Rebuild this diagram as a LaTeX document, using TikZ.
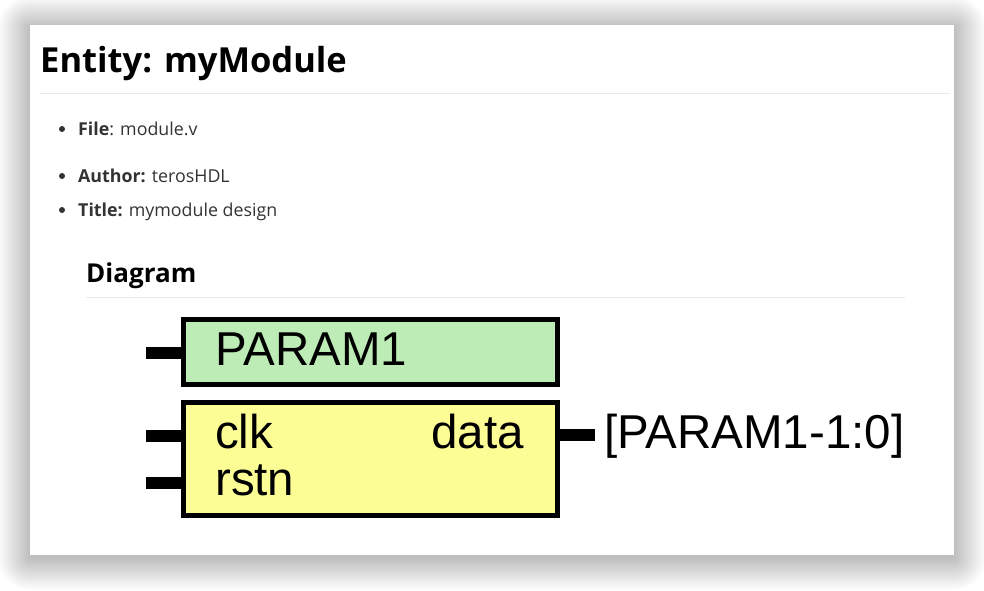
\documentclass[tikz,border=0pt]{standalone}
\usepackage{fontspec}
\setmainfont{Open Sans}
\newfontfamily\arialf{Liberation Sans}
\definecolor{txt}{HTML}{333333}
\definecolor{rulec}{HTML}{E8E8E8}
\definecolor{pgreen}{HTML}{BDECB6}
\definecolor{pyellow}{HTML}{FDFD96}
\begin{document}
\begin{tikzpicture}[x=1pt,y=-1pt,
  title/.style={anchor=base west,inner sep=0pt,font=\fontsize{34.5}{40}\selectfont\bfseries,text=black},
  htwo/.style={anchor=base west,inner sep=0pt,font=\fontsize{26}{30}\selectfont\bfseries,text=black},
  body/.style={anchor=base west,inner sep=0pt,font=\fontsize{17.8}{20}\selectfont,text=txt},
  dot/.style={circle,fill=txt,inner sep=0pt,minimum size=6pt},
  rulel/.style={draw=rulec,line width=1pt},
  gbox/.style={draw=black,line width=5pt,fill=pgreen,anchor=north west,inner sep=0pt,outer sep=0pt},
  ybox/.style={draw=black,line width=5pt,fill=pyellow,anchor=north west,inner sep=0pt,outer sep=0pt},
  stub/.style={draw=black,line width=12pt},
  diag/.style={inner sep=0pt,font=\arialf\fontsize{47.5}{52}\selectfont,text=black}]
\useasboundingbox (0,0) rectangle (984,590);
\fill[white] (0,0) rectangle (984,590);
% shadow
\foreach \i in {1,...,32}{
  \fill[black,opacity=0.0075,rounded corners=\i pt] (30-\i,25-\i+3) rectangle (954+\i,555+\i+3);
}
\fill[white] (30,25) rectangle (954,555);
% header
\node[title] (ttl) at (40,72) {Entity: myModule};
\coordinate (r1a) at (40,93);
\coordinate (r1b) at (950,93);
\draw[rulel] (r1a) -- (r1b);
% list
\node[dot] (d1) at (62,129) {};
\node[body] (l1) at (78,135) {\textbf{File}: module.v};
\node[dot] (d2) at (62,176) {};
\node[body] (l2) at (78,182.5) {\textbf{Author:} terosHDL};
\node[dot] (d3) at (62,210) {};
\node[body] (l3) at (78,216.5) {\textbf{Title:} mymodule design};
% diagram heading
\node[htwo] (dg) at (86,282) {Diagram};
\coordinate (r2a) at (86,297);
\coordinate (r2b) at (905,297);
\draw[rulel] (r2a) -- (r2b);
% boxes
\node[gbox,minimum width=374.5pt,minimum height=65.5pt] (pbox) at (183,319) {};
\node[ybox,minimum width=374.5pt,minimum height=112.5pt] (mbox) at (183,402.7) {};
% stubs
\coordinate (pp) at (146,353);
\coordinate (pc) at (146,436);
\coordinate (pr) at (146,483);
\coordinate (po) at (595,435);
\draw[stub] (pp) -- (pp -| pbox.west);
\draw[stub] (pc) -- (pc -| mbox.west);
\draw[stub] (pr) -- (pr -| mbox.west);
\draw[stub] (po -| mbox.east) -- (po);
% labels
\node[diag,anchor=base west] (lp) at (215,365) {PARAM1};
\node[diag,anchor=base west] (lc) at (215,448) {clk};
\node[diag,anchor=base west] (lr) at (215,495) {rstn};
\node[diag,anchor=base east] (ld) at (524,448) {data};
\node[diag,anchor=base west] (lo) at (604,448) {[PARAM1-1:0]};
\end{tikzpicture}
\end{document}
